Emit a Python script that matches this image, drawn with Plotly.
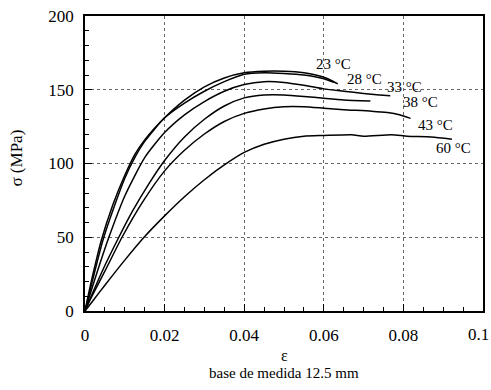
import plotly.graph_objects as go

# ---- data (strain ε, stress σ in MPa) ----
labels = ["23 °C", "28 °C", "33 °C", "38 °C", "43 °C", "60 °C"]

eps_23 = [0, 0.001, 0.002, 0.004, 0.007, 0.010, 0.0125, 0.015, 0.020, 0.025, 0.030, 0.035, 0.040, 0.045, 0.050, 0.055, 0.058, 0.061, 0.0635]
sig_23 = [0, 13, 25, 47, 72, 92, 106, 116, 131, 143, 152, 158, 161.5, 162.5, 162.5, 161.5, 160, 157.5, 154]

eps_28 = [0, 0.001, 0.002, 0.0045, 0.0075, 0.010, 0.0125, 0.015, 0.020, 0.025, 0.030, 0.035, 0.040, 0.045, 0.050, 0.055, 0.060, 0.0625]
sig_28 = [0, 11, 22, 48, 72, 90, 104, 115, 131, 141, 149, 155.5, 160.5, 161.5, 161, 160, 157.5, 155]

eps_33 = [0, 0.001, 0.003, 0.006, 0.010, 0.015, 0.020, 0.025, 0.030, 0.035, 0.040, 0.045, 0.050, 0.055, 0.060, 0.065, 0.070, 0.074, 0.0767]
sig_33 = [0, 9, 26, 50, 78, 104, 121, 133, 142, 149, 153.5, 155.5, 155, 153, 150.6, 149, 147.5, 146.5, 146]

eps_38 = [0, 0.001, 0.0045, 0.0085, 0.012, 0.016, 0.020, 0.025, 0.030, 0.035, 0.040, 0.045, 0.050, 0.055, 0.060, 0.065, 0.0717]
sig_38 = [0, 6.5, 28, 50, 68, 86, 102, 118, 130, 139, 144.5, 146.5, 146.5, 145.5, 144.2, 143, 142.3]

eps_43 = [0, 0.001, 0.005, 0.0093, 0.0145, 0.020, 0.025, 0.030, 0.035, 0.040, 0.045, 0.050, 0.055, 0.060, 0.065, 0.072, 0.076, 0.079, 0.0818]
sig_43 = [0, 6, 27, 50, 74, 95, 109, 120, 128.5, 134, 137, 138.5, 138.5, 137.5, 136.5, 135.5, 134.5, 133, 130.6]

eps_60 = [0, 0.002, 0.005, 0.010, 0.015, 0.020, 0.025, 0.030, 0.035, 0.040, 0.045, 0.050, 0.055, 0.060, 0.067, 0.070, 0.077, 0.081, 0.087, 0.0922]
sig_60 = [0, 7, 17.5, 34.5, 50.5, 64.5, 77.5, 89, 99, 107.5, 113, 116.5, 118.5, 119, 119.5, 118.5, 119.5, 118.5, 118, 116.5]

# label anchor positions (data coords)
label_x = [0.0625, 0.0702, 0.0804, 0.0842, 0.0881, 0.0926]
label_y = [167.5, 157.3, 152.2, 142, 126, 110.4]

x_ticks = [0, 0.02, 0.04, 0.06, 0.08, 0.1]
x_ticktext = ["0", "0.02", "0.04", "0.06", "0.08", "0.1"]
y_ticks = [0, 50, 100, 150, 200]

series = [(eps_23, sig_23), (eps_28, sig_28), (eps_33, sig_33),
          (eps_38, sig_38), (eps_43, sig_43), (eps_60, sig_60)]

SERIF = "Liberation Serif, Times New Roman, serif"

fig = go.Figure()
for (ex, sy), name in zip(series, labels):
    fig.add_trace(go.Scatter(x=ex, y=sy, mode="lines", name=name,
                             line=dict(color="black", width=1.5, shape="spline", smoothing=0.6),
                             showlegend=False, hoverinfo="skip"))

for name, lx, ly in zip(labels, label_x, label_y):
    fig.add_annotation(x=lx, y=ly, text=name, showarrow=False,
                       font=dict(family=SERIF, size=15, color="black"))

# last x tick label drawn as annotation so it stays inside the page edge
tick_text_shown = x_ticktext[:-1] + [""]
fig.add_annotation(xref="paper", yref="paper", x=1.02, y=-0.078, text=x_ticktext[-1],
                   showarrow=False, xanchor="right", yanchor="middle",
                   font=dict(family=SERIF, size=17, color="black"))

fig.add_annotation(xref="paper", yref="paper", x=0.5, y=-0.150, text="ε",
                   showarrow=False, yanchor="middle",
                   font=dict(family=SERIF, size=16, color="black"))
fig.add_annotation(xref="paper", yref="paper", x=0.5, y=-0.211, text="base de medida 12.5 mm",
                   showarrow=False, yanchor="middle",
                   font=dict(family=SERIF, size=15, color="black"))
fig.add_annotation(xref="paper", yref="paper", x=-0.171, y=0.52, text="σ (MPa)",
                   showarrow=False, textangle=-90, xanchor="center", yanchor="middle",
                   font=dict(family=SERIF, size=17, color="black"))

fig.update_xaxes(range=[0, 0.1], tickvals=x_ticks, ticktext=tick_text_shown, automargin=False,
                 ticklabeloverflow="allow",
                 showline=True, linecolor="black", linewidth=1.5, mirror=True,
                 ticks="inside", ticklen=7, tickwidth=1.2, tickcolor="black",
                 minor=dict(ticks="inside", dtick=0.005, ticklen=4, tickcolor="black", showgrid=False),
                 showgrid=True, gridcolor="#666", griddash="dot", gridwidth=1,
                 zeroline=False, ticklabelstandoff=8,
                 tickfont=dict(family=SERIF, size=17, color="black"))
fig.update_yaxes(range=[0, 200], tickvals=y_ticks, automargin=False,
                 ticklabeloverflow="allow",
                 showline=True, linecolor="black", linewidth=1.5, mirror=True,
                 ticks="inside", ticklen=7, tickwidth=1.2, tickcolor="black",
                 minor=dict(ticks="inside", dtick=10, ticklen=4, tickcolor="black", showgrid=False),
                 showgrid=True, gridcolor="#666", griddash="dot", gridwidth=1,
                 zeroline=False, ticklabelstandoff=6,
                 tickfont=dict(family=SERIF, size=17, color="black"))

fig.update_layout(width=491, height=390,
                  margin=dict(l=85, r=8, t=16, b=79),
                  plot_bgcolor="white", paper_bgcolor="white")

fig.write_html("out.html")
